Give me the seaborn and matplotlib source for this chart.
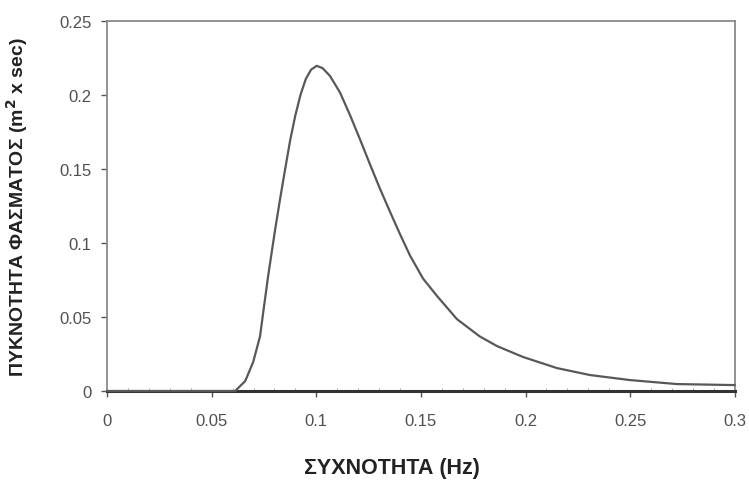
import matplotlib
matplotlib.use('Agg')
import matplotlib.pyplot as plt
import seaborn as sns
import pandas as pd
from matplotlib.ticker import FormatStrFormatter, MultipleLocator

# ============================================================
# DATA
# ============================================================

freq = [0.0, 0.02, 0.04, 0.0612, 0.066, 0.0698, 0.0731, 0.0746, 0.077,
        0.0788, 0.0803, 0.0827, 0.0851, 0.0875, 0.0900, 0.0925, 0.0950,
        0.0975, 0.1002, 0.1030, 0.1065, 0.1113, 0.1161, 0.1209, 0.1257,
        0.1304, 0.1352, 0.1400, 0.1448, 0.151, 0.1577, 0.1672, 0.178,
        0.1863, 0.1988, 0.215, 0.2308, 0.2499, 0.2723, 0.3]

density = [0.0, 0.0, 0.0, 0.0, 0.0067, 0.0195, 0.037, 0.053, 0.078,
           0.095, 0.109, 0.130, 0.150, 0.1695, 0.1865, 0.2005, 0.2110,
           0.2172, 0.2198, 0.2182, 0.2130, 0.2018, 0.1865, 0.1700, 0.1530,
           0.1368, 0.1212, 0.1060, 0.0915, 0.076, 0.0642, 0.0486, 0.037,
           0.0304, 0.023, 0.0155, 0.0108, 0.0074, 0.0047, 0.004]

x_ticks = [0, 0.05, 0.1, 0.15, 0.2, 0.25, 0.3]
y_ticks = [0, 0.05, 0.1, 0.15, 0.2, 0.25]

df = pd.DataFrame({'freq': freq, 'density': density})

# ============================================================
# PLOT
# ============================================================

sns.set_style('white')
plt.rcParams['font.family'] = ['Liberation Sans', 'DejaVu Sans']

fig = plt.figure(figsize=(7.49, 4.81), dpi=100)
ax = fig.add_axes([0.143, 0.185, 0.838, 0.769])

sns.lineplot(data=df, x='freq', y='density', ax=ax,
             color='#585858', linewidth=1.6, clip_on=False, zorder=3)

ax.set_xlim(0, 0.3)
ax.set_ylim(0, 0.25)
ax.set_xticks(x_ticks)
ax.set_yticks(y_ticks)
ax.xaxis.set_major_formatter(FormatStrFormatter('%g'))
ax.yaxis.set_major_formatter(FormatStrFormatter('%g'))
ax.xaxis.set_minor_locator(MultipleLocator(0.01))

ax.tick_params(axis='both', which='major', direction='out', length=4,
               width=1, color='#555555', labelsize=12, labelcolor='#505050',
               bottom=True, left=True)
ax.tick_params(axis='x', which='major', pad=12)
ax.tick_params(axis='y', which='major', pad=7)
ax.tick_params(axis='x', which='minor', direction='in', length=2,
               width=0.6, color='#999999', bottom=True)

for side in ['left', 'top', 'right']:
    ax.spines[side].set_color('#8a8a8a')
    ax.spines[side].set_linewidth(1.3)
ax.spines['bottom'].set_color('#333333')
ax.spines['bottom'].set_linewidth(2.2)

ax.set_xlabel('ΣΥΧΝΟΤΗΤΑ (Hz)', fontsize=15.5, fontweight='bold', color='#222222')
ax.set_ylabel('ΠΥΚΝΟΤΗΤΑ ΦΑΣΜΑΤΟΣ (m$^{\\mathbf{2}}$ x sec)', fontsize=14,
              fontweight='bold', color='#222222')
ax.xaxis.set_label_coords(0.454, -0.178)
ax.yaxis.set_label_coords(-0.123, 0.5)

plt.savefig('out.png', dpi=100, facecolor='white')
